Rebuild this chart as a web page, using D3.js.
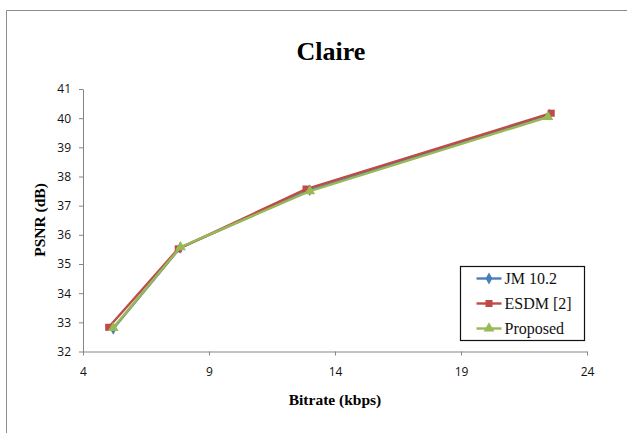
<!DOCTYPE html>
<html>
<head>
<meta charset="utf-8">
<script src="https://d3js.org/d3.v7.min.js"></script>
<style>
  body { margin: 0; background: #fff; }
  svg { display: block; }
</style>
</head>
<body>
<svg id="chart" width="627" height="433"></svg>
<script>
// data
var seriesNames = ["JM 10.2", "ESDM [2]", "Proposed"];
var jmBitrate = [5.2, 7.85, 13.0, 22.5];
var jmPsnr = [32.78, 35.55, 37.53, 40.12];
var esdmBitrate = [5.02, 7.78, 12.85, 22.58];
var esdmPsnr = [32.83, 35.52, 37.57, 40.17];
var propBitrate = [5.2, 7.87, 13.0, 22.45];
var propPsnr = [32.81, 35.58, 37.5, 40.04];
var xTicks = [4, 9, 14, 19, 24];
var yTicks = [32, 33, 34, 35, 36, 37, 38, 39, 40, 41];

var colors = ["#4A7EBB", "#BE4B48", "#98B954"];
var symbols = [d3.symbolDiamond, d3.symbolSquare, d3.symbolTriangle];
var symSize = [40, 50, 50];

var series = [
  { name: seriesNames[0], xs: jmBitrate, ys: jmPsnr },
  { name: seriesNames[1], xs: esdmBitrate, ys: esdmPsnr },
  { name: seriesNames[2], xs: propBitrate, ys: propPsnr }
];

var serif = "'Liberation Serif', 'Times New Roman', serif";
var svg = d3.select("#chart");

// outer chart border (runs off the right and bottom edge)
svg.append("path")
  .attr("d", "M6.5,440 L6.5,10.5 L640,10.5")
  .attr("fill", "none")
  .attr("stroke", "#8c8c8c")
  .attr("stroke-width", 1);

var x = d3.scaleLinear().domain([4, 24]).range([83, 587]);
var y = d3.scaleLinear().domain([32, 41]).range([351.5, 89]);

// axes
var xAxis = svg.append("g")
  .attr("transform", "translate(0," + y(32) + ")")
  .call(d3.axisBottom(x).tickValues(xTicks).tickSize(4).tickPadding(17).tickSizeOuter(0));
var yAxis = svg.append("g")
  .attr("transform", "translate(" + x(4) + ",0)")
  .call(d3.axisLeft(y).tickValues(yTicks).tickSize(4).tickPadding(8).tickSizeOuter(0));

[xAxis, yAxis].forEach(function(a) {
  a.select(".domain").attr("stroke", "#868686");
  a.selectAll(".tick line").attr("stroke", "#868686");
  a.selectAll("text")
    .attr("font-family", "'Open Sans', 'Liberation Sans', sans-serif")
    .attr("font-size", 12)
    .attr("fill", "#111");
});
xAxis.selectAll("text").attr("dy", "0.32em");

// lines and markers
var line = d3.line()
  .x(function(d) { return x(d[0]); })
  .y(function(d) { return y(d[1]); });

series.forEach(function(s, i) {
  var pts = s.xs.map(function(v, j) { return [v, s.ys[j]]; });
  var g = svg.append("g");
  g.append("path")
    .datum(pts)
    .attr("d", line)
    .attr("fill", "none")
    .attr("stroke", colors[i])
    .attr("stroke-width", 2.4)
    .attr("stroke-linejoin", "round");
  g.selectAll("path.mk")
    .data(pts)
    .enter()
    .append("path")
    .attr("class", "mk")
    .attr("d", d3.symbol().type(symbols[i]).size(symSize[i]))
    .attr("transform", function(d) { return "translate(" + x(d[0]) + "," + y(d[1]) + ")"; })
    .attr("fill", colors[i]);
});

// title
svg.append("text")
  .attr("x", 331)
  .attr("y", 60)
  .attr("text-anchor", "middle")
  .attr("font-family", serif)
  .attr("font-weight", "bold")
  .attr("font-size", 26)
  .text("Claire");

// axis titles
svg.append("text")
  .attr("x", 335)
  .attr("y", 405)
  .attr("text-anchor", "middle")
  .attr("font-family", serif)
  .attr("font-weight", "bold")
  .attr("font-size", 15.5)
  .text("Bitrate (kbps)");

svg.append("text")
  .attr("transform", "translate(45,220) rotate(-90)")
  .attr("text-anchor", "middle")
  .attr("font-family", serif)
  .attr("font-weight", "bold")
  .attr("font-size", 15.5)
  .text("PSNR (dB)");

// legend
var lg = svg.append("g").attr("transform", "translate(460.5,266.5)");
lg.append("rect")
  .attr("width", 124)
  .attr("height", 74)
  .attr("fill", "#fff")
  .attr("stroke", "#111")
  .attr("stroke-width", 1.2);

var items = lg.selectAll("g.item")
  .data(series)
  .enter()
  .append("g")
  .attr("class", "item")
  .attr("transform", function(d, i) { return "translate(0," + (12 + i * 25) + ")"; });

items.append("line")
  .attr("x1", 16).attr("x2", 41)
  .attr("stroke", function(d, i) { return colors[i]; })
  .attr("stroke-width", 2.4);
items.append("path")
  .attr("d", function(d, i) { return d3.symbol().type(symbols[i]).size(symSize[i])(); })
  .attr("transform", "translate(28.5,0)")
  .attr("fill", function(d, i) { return colors[i]; });
items.append("text")
  .attr("x", 44)
  .attr("dy", "0.35em")
  .attr("font-family", serif)
  .attr("font-size", 16)
  .attr("fill", "#111")
  .text(function(d) { return d.name; });
</script>
</body>
</html>
